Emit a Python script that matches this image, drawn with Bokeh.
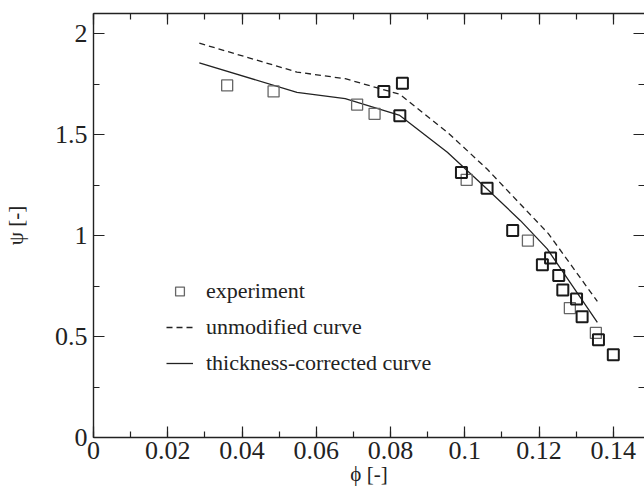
from bokeh.plotting import figure
from bokeh.models import (LinearAxis, Range1d, Legend, LegendItem,
                          SingleIntervalTicker, PrintfTickFormatter,
                          CustomLabelingPolicy)
from bokeh.embed import file_html
from bokeh.resources import INLINE

# ---- data -------------------------------------------------------------
# experiment (two overlapping runs; darker squares drawn bolder)
exp_a_phi = [0.0360, 0.0485, 0.0710, 0.0757, 0.1005, 0.1170, 0.1283, 0.1353]
exp_a_psi = [1.744, 1.714, 1.649, 1.603, 1.276, 0.975, 0.641, 0.518]
exp_b_phi = [0.0782, 0.0832, 0.0825, 0.0991, 0.1060, 0.1129, 0.1231, 0.1209,
             0.1253, 0.1264, 0.1301, 0.1316, 0.1360, 0.1400]
exp_b_psi = [1.714, 1.755, 1.593, 1.312, 1.235, 1.025, 0.889, 0.855,
             0.802, 0.731, 0.686, 0.598, 0.484, 0.410]

# unmodified curve
unmod_phi = [0.0285, 0.0548, 0.0678, 0.0825, 0.0953, 0.1060, 0.1150, 0.1225, 0.1357]
unmod_psi = [1.953, 1.810, 1.777, 1.700, 1.512, 1.330, 1.155, 1.010, 0.674]

# thickness-corrected curve
corr_phi = [0.0285, 0.0548, 0.0678, 0.0825, 0.0953, 0.1060, 0.1150, 0.1222, 0.1357]
corr_psi = [1.856, 1.709, 1.678, 1.595, 1.413, 1.231, 1.074, 0.934, 0.570]

legend_labels = ["experiment", "unmodified curve", "thickness-corrected curve"]
x_label = "ϕ [-]"
y_label = "ψ [-]"

# ---- figure -----------------------------------------------------------
FONT = "Liberation Serif"
INK = "#222222"

p = figure(width=644, height=491,
           x_range=Range1d(0, 0.1484), y_range=Range1d(0, 2.1),
           output_backend="svg", toolbar_location=None,
           x_axis_type=None, y_axis_type=None,
           min_border_left=93, min_border_right=0,
           min_border_top=13, min_border_bottom=54)
p.outline_line_color = None
p.background_fill_color = "white"
p.border_fill_color = "white"

no_labels = CustomLabelingPolicy(code="return new Set()")


def style_axis(ax, labels=True, line=True):
    ax.major_tick_in = 11
    ax.major_tick_out = 0
    ax.minor_tick_in = 6
    ax.minor_tick_out = 0
    ax.major_tick_line_color = INK
    ax.minor_tick_line_color = INK
    ax.major_tick_line_width = 1.2
    ax.minor_tick_line_width = 1.2
    ax.axis_line_color = INK if line else None
    ax.axis_line_width = 1.4
    ax.major_label_text_font = FONT
    ax.major_label_text_color = INK
    if labels:
        ax.major_label_text_font_size = "26px"
    else:
        ax.major_label_text_font_size = "0px"
        ax.major_label_standoff = 0
        ax.major_label_policy = no_labels
    ax.axis_label_text_font = FONT
    ax.axis_label_text_font_size = "21px"
    ax.axis_label_text_font_style = "normal"
    ax.axis_label_text_color = INK


def xticker():
    return SingleIntervalTicker(interval=0.02, num_minor_ticks=2)


def yticker():
    return SingleIntervalTicker(interval=0.5, num_minor_ticks=2)


xb = LinearAxis(ticker=xticker(), formatter=PrintfTickFormatter(format="%g"))
style_axis(xb)
xb.major_label_standoff = 4
xb.axis_label = x_label
xb.axis_label_standoff = 0
p.add_layout(xb, "below")

xt = LinearAxis(ticker=xticker())
style_axis(xt, labels=False)
p.add_layout(xt, "above")

yl = LinearAxis(ticker=yticker(), formatter=PrintfTickFormatter(format="%g"))
style_axis(yl)
yl.major_label_standoff = 6
yl.axis_label = y_label
yl.axis_label_standoff = 24
p.add_layout(yl, "left")

yr = LinearAxis(ticker=yticker())
style_axis(yr, labels=False, line=False)
p.add_layout(yr, "right")

# ---- glyphs -----------------------------------------------------------
r_unmod = p.line(unmod_phi, unmod_psi, line_color=INK, line_width=1.3,
                 line_dash="6 4")
r_corr = p.line(corr_phi, corr_psi, line_color=INK, line_width=1.3)
r_a = p.scatter(exp_a_phi, exp_a_psi, marker="square", size=11,
                fill_color=None, line_color="#666666", line_width=1.3)
r_b = p.scatter(exp_b_phi, exp_b_psi, marker="square", size=11,
                fill_color=None, line_color="#1a1a1a", line_width=2.0)

legend = Legend(items=[
    LegendItem(label=legend_labels[0], renderers=[r_a]),
    LegendItem(label=legend_labels[1], renderers=[r_unmod]),
    LegendItem(label=legend_labels[2], renderers=[r_corr]),
], location=(73, 61))
legend.background_fill_alpha = 0
legend.border_line_color = None
legend.padding = 0
legend.margin = 0
legend.spacing = 10
legend.glyph_width = 27
legend.glyph_height = 22
legend.label_height = 22
legend.label_standoff = 13
legend.label_text_font = FONT
legend.label_text_font_size = "22px"
legend.label_text_color = INK
p.add_layout(legend)

open("out.html", "w").write(file_html(p, INLINE))
